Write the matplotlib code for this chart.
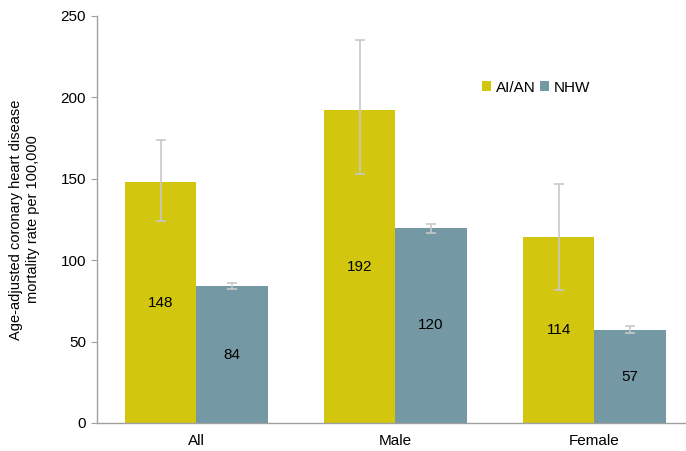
import matplotlib
matplotlib.use("Agg")
import matplotlib.pyplot as plt
import numpy as np

plt.rcParams['font.family'] = ['Liberation Sans', 'DejaVu Sans']

categories = ["All", "Male", "Female"]
series_names = ["AI/AN", "NHW"]
aian = [148, 192, 114]
nhw = [84, 120, 57]
aian_low = [124, 153, 82]
aian_high = [174, 235, 147]
nhw_low = [82.5, 117, 55]
nhw_high = [86, 122.5, 59.5]
yticks = [0, 50, 100, 150, 200, 250]

colors = ["#D2C60E", "#7499A4"]

fig = plt.figure(figsize=(6.86, 4.51), dpi=100)
ax = fig.add_axes([97/686, 28/451, 1 - 97/686, 407/451])

x = np.arange(len(categories))
w = 0.357
vals = [aian, nhw]
lows = [aian_low, nhw_low]
highs = [aian_high, nhw_high]
for i, (name, v, lo, hi, c) in enumerate(zip(series_names, vals, lows, highs, colors)):
    pos = x + (i - 0.5) * w
    v = np.array(v, dtype=float)
    err = np.array([v - np.array(lo), np.array(hi) - v])
    ax.bar(pos, v, width=w, color=c, label=name, zorder=2)
    ax.errorbar(pos, v, yerr=err, fmt='none', ecolor='#C8C8C8', elinewidth=1.2,
                capsize=3.5, capthick=1.2, zorder=3)
    for p, val in zip(pos, v):
        ax.text(p, val / 2, f"{int(val)}", ha='center', va='center', fontsize=11, color='black', zorder=4)

ax.set_xlim(-0.5, 2.46)
ax.set_ylim(0, 250)
ax.set_yticks(yticks)
ax.set_xticks(x)
ax.set_xticklabels(categories, fontsize=11)
ax.tick_params(axis='y', labelsize=11, direction='out', length=4, color='#A0A0A0', pad=4)
ax.tick_params(axis='x', length=0, pad=8)
for s in ['top', 'right']:
    ax.spines[s].set_visible(False)
for s in ['left', 'bottom']:
    ax.spines[s].set_color('#A0A0A0')
    ax.spines[s].set_linewidth(1)
ax.set_ylabel("Age-adjusted coronary heart disease\nmortality rate per 100,000", fontsize=10.5, labelpad=15)

leg = ax.legend(loc='upper left', bbox_to_anchor=(0.63, 0.875), frameon=False, ncol=2,
                fontsize=11, handlelength=0.6, handleheight=0.6, handletextpad=0.3,
                columnspacing=0.3)

fig.savefig("out.png", dpi=100)
